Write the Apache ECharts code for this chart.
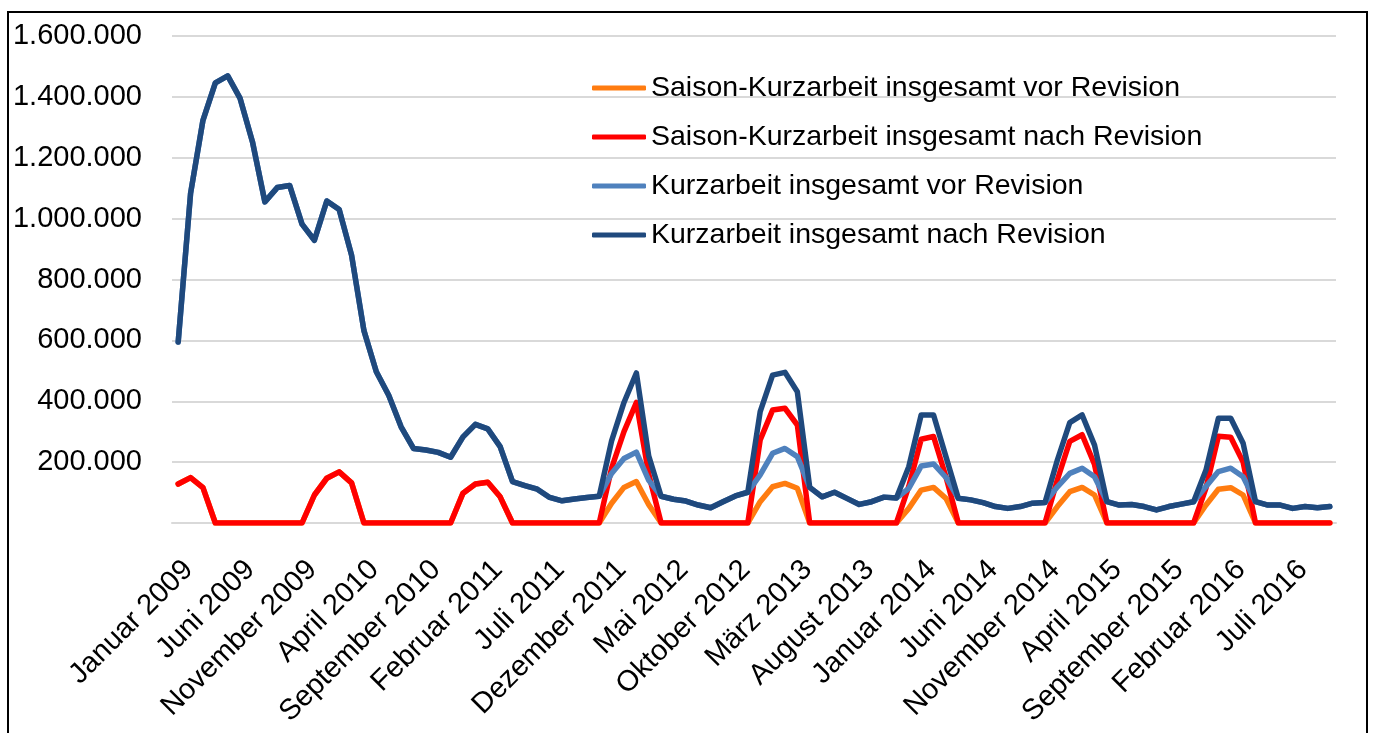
<!DOCTYPE html>
<html>
<head>
<meta charset="utf-8">
<title>Kurzarbeit</title>
<script src="https://cdn.jsdelivr.net/npm/echarts@6/dist/echarts.min.js"></script>
<style>
  html, body { margin: 0; padding: 0; background: #fff; }
  #chart { width: 1375px; height: 733px; }
</style>
</head>
<body>
<div id="chart"></div>
<script>
// Monatsnamen, Kategorien Januar 2009 bis Oktober 2016
const monthNames = ['Januar', 'Februar', 'März', 'April', 'Mai', 'Juni', 'Juli',
  'August', 'September', 'Oktober', 'November', 'Dezember']
const firstYear = 2009
const monthCount = 94

const seriesNames = [
  'Saison-Kurzarbeit insgesamt vor Revision',
  'Saison-Kurzarbeit insgesamt nach Revision',
  'Kurzarbeit insgesamt vor Revision',
  'Kurzarbeit insgesamt nach Revision'
]

const saisonVor = [
  128000, 149000, 116000, 0, 0, 0, 0, 0, 0, 0, 0, 92000,
  147000, 168000, 132000, 0, 0, 0, 0, 0, 0, 0, 0, 98000,
  128000, 134000, 86000, 0, 0, 0, 0, 0, 0, 0, 0, 65000,
  117000, 136000, 60000, 0, 0, 0, 0, 0, 0, 0, 0, 70000,
  119000, 130000, 114000, 0, 0, 0, 0, 0, 0, 0, 0, 48000,
  108000, 117000, 81000, 0, 0, 0, 0, 0, 0, 0, 0, 54000,
  103000, 117000, 92000, 0, 0, 0, 0, 0, 0, 0, 0, 59000,
  111000, 116000, 92000, 0, 0, 0, 0, 0, 0, 0
]

const saisonNach = [
  128000, 149000, 116000, 0, 0, 0, 0, 0, 0, 0, 0, 92000,
  147000, 168000, 132000, 0, 0, 0, 0, 0, 0, 0, 0, 98000,
  128000, 134000, 86000, 0, 0, 0, 0, 0, 0, 0, 0, 180000,
  300000, 396000, 160000, 0, 0, 0, 0, 0, 0, 0, 0, 273000,
  371000, 377000, 322000, 0, 0, 0, 0, 0, 0, 0, 0, 120000,
  275000, 284000, 152000, 0, 0, 0, 0, 0, 0, 0, 0, 142000,
  268000, 290000, 192000, 0, 0, 0, 0, 0, 0, 0, 0, 115000,
  285000, 282000, 200000, 0, 0, 0, 0, 0, 0, 0
]

const gesamtVor = [
  595000, 1083000, 1323000, 1446000, 1469000, 1395000, 1252000, 1055000, 1102000, 1109000, 982000, 929000,
  1058000, 1030000, 880000, 632000, 497000, 420000, 316000, 245000, 240000, 232000, 216000, 283000,
  324000, 309000, 251000, 136000, 123000, 111000, 84000, 73000, 79000, 84000, 88000, 163000,
  212000, 233000, 140000, 88000, 78000, 72000, 59000, 50000, 70000, 89000, 101000, 158000,
  229000, 245000, 218000, 117000, 86000, 101000, 81000, 61000, 70000, 85000, 82000, 114000,
  187000, 194000, 150000, 81000, 76000, 67000, 54000, 48000, 54000, 65000, 67000, 119000,
  163000, 180000, 152000, 70000, 59000, 61000, 54000, 43000, 54000, 62000, 70000, 120000,
  169000, 180000, 152000, 70000, 59000, 59000, 48000, 54000, 50000, 54000
]

const gesamtNach = [
  595000, 1083000, 1323000, 1446000, 1469000, 1395000, 1252000, 1055000, 1102000, 1109000, 982000, 929000,
  1058000, 1030000, 880000, 632000, 497000, 420000, 316000, 245000, 240000, 232000, 216000, 283000,
  324000, 309000, 251000, 136000, 123000, 111000, 84000, 73000, 79000, 84000, 88000, 270000,
  396000, 493000, 220000, 88000, 78000, 72000, 59000, 50000, 70000, 89000, 101000, 366000,
  486000, 495000, 431000, 117000, 86000, 101000, 81000, 61000, 70000, 85000, 82000, 185000,
  355000, 355000, 218000, 81000, 76000, 67000, 54000, 48000, 54000, 65000, 67000, 207000,
  330000, 355000, 256000, 70000, 59000, 61000, 54000, 43000, 54000, 62000, 70000, 174000,
  344000, 344000, 262000, 70000, 59000, 59000, 48000, 54000, 50000, 54000
]

const colors = ['#FF7C10', '#FF0000', '#4F81BD', '#1F497D']

const categories = []
for (let i = 0; i < monthCount; i++) {
  categories.push(monthNames[i % 12] + ' ' + (firstYear + Math.floor(i / 12)))
}

// 1600000 -> "1.600.000", die Null bleibt leer
function formatDe(v) {
  if (v === 0) return ''
  return String(v).replace(/\B(?=(\d{3})+(?!\d))/g, '.')
}

const chart = echarts.init(document.getElementById('chart'), null, { renderer: 'canvas' })
const font = 'Liberation Sans, Arial, sans-serif'
const allData = [saisonVor, saisonNach, gesamtVor, gesamtNach]

chart.setOption({
  animation: false,
  backgroundColor: '#fff',
  color: colors,
  textStyle: { fontFamily: font },
  graphic: [{
    type: 'rect',
    shape: { x: 8, y: 12, width: 1359, height: 800 },
    style: { fill: 'none', stroke: '#000', lineWidth: 2 },
    silent: true
  }],
  grid: {
    left: 172,
    right: 39,
    top: 36,
    bottom: 210,
    containLabel: false,
    outerBoundsMode: 'none'
  },
  legend: {
    orient: 'vertical',
    left: 587,
    top: 68,
    itemWidth: 54,
    itemHeight: 5,
    itemGap: 19,
    icon: 'roundRect',
    textStyle: { fontFamily: font, fontSize: 28.5, color: '#000', lineHeight: 30 },
    data: seriesNames
  },
  xAxis: {
    type: 'category',
    data: categories,
    boundaryGap: true,
    axisTick: { show: false },
    axisLine: { show: true, lineStyle: { color: '#d9d9d9', width: 2 } },
    axisLabel: {
      interval: 4,
      rotate: 45,
      margin: 32,
      verticalAlign: 'top',
      fontFamily: font,
      fontSize: 29,
      color: '#000'
    }
  },
  yAxis: {
    type: 'value',
    min: 0,
    max: 1600000,
    interval: 200000,
    axisLine: { show: false },
    axisTick: { show: false },
    splitLine: { lineStyle: { color: '#d9d9d9', width: 2 } },
    axisLabel: {
      formatter: formatDe,
      margin: 30,
      fontFamily: font,
      fontSize: 29,
      color: '#000'
    }
  },
  series: seriesNames.map((name, k) => ({
    name: name,
    type: 'line',
    data: allData[k],
    symbol: 'none',
    showSymbol: false,
    z: 2 + k,
    lineStyle: { width: 5.5, color: colors[k], cap: 'round', join: 'round' },
    itemStyle: { color: colors[k] }
  }))
})
</script>
</body>
</html>
